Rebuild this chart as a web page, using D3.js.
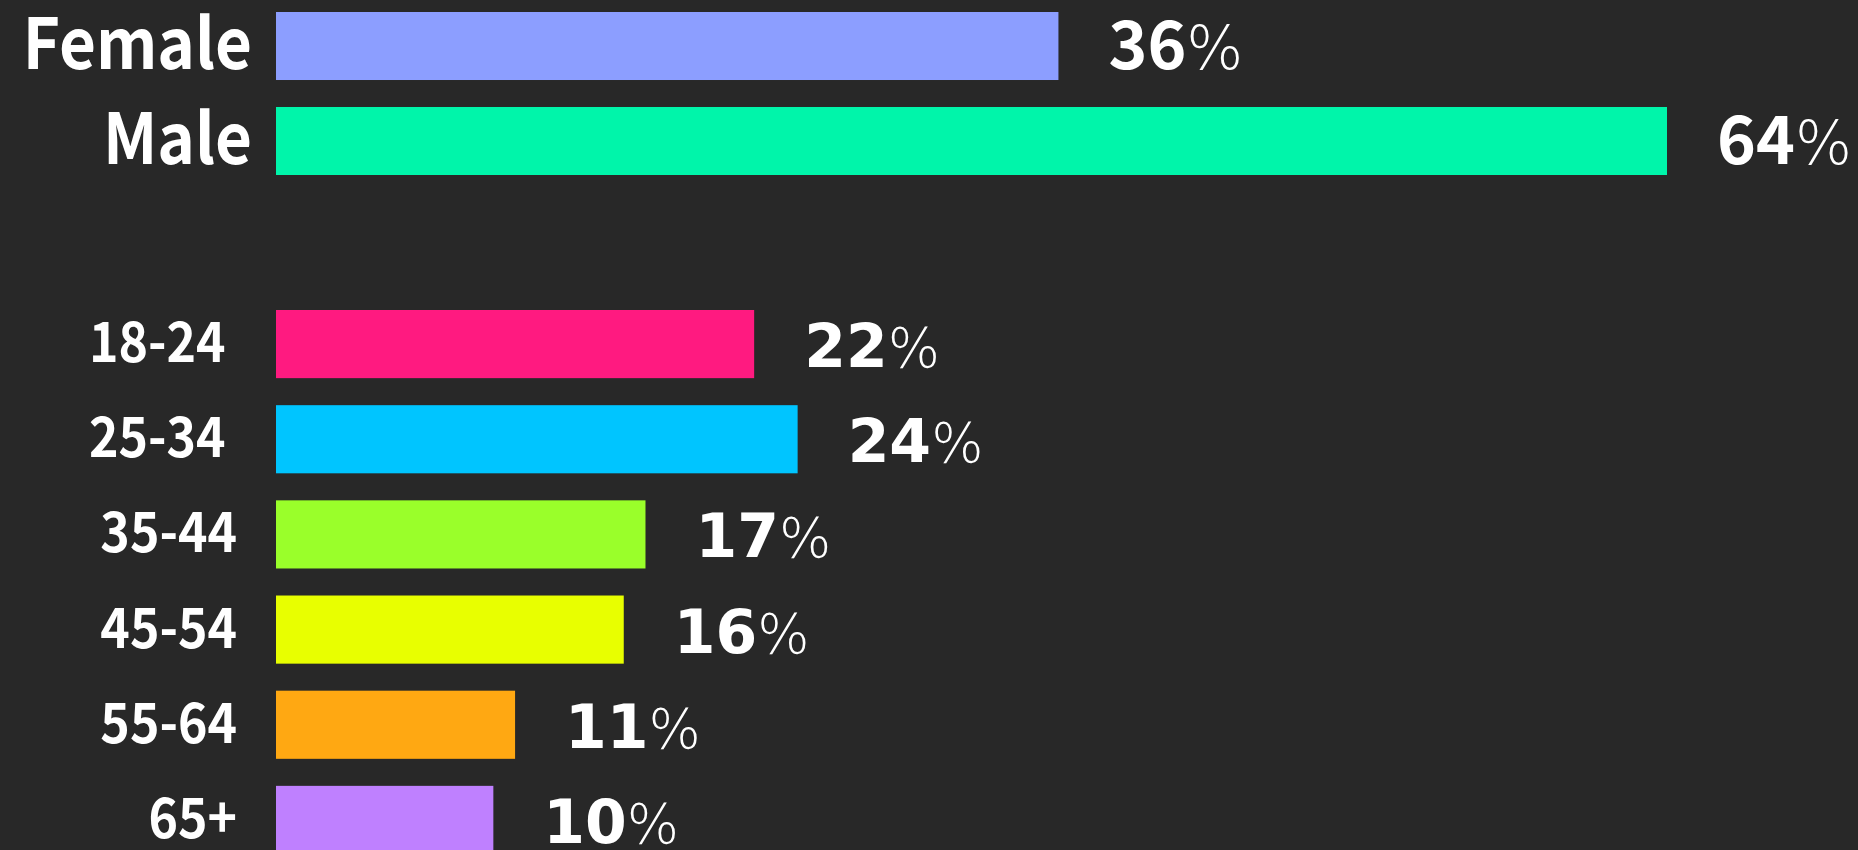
<!DOCTYPE html>
<html>
<head>
<meta charset="utf-8">
<script src="https://cdn.jsdelivr.net/npm/d3@7"></script>
<style>
    html, body { margin: 0; padding: 0; background: #282828; overflow: hidden; }
</style>
</head>
<body>
<svg id="chart"></svg>
<script>
// gender block
var genders = ['Female', 'Male'];
var genderShares = [36, 64];
var genderColors = ['#8c9eff', '#00f5aa'];

// age block
var ages = ['18-24\u00a0', '25-34\u00a0', '35-44', '45-54', '55-64', '65+'];
var ageShares = [22, 24, 17, 16, 11, 10];
var ageColors = ['#ff1a80', '#00c5ff', '#9aff2a', '#e8ff00', '#ffa812', '#bf80ff'];

var W = 1858, H = 850;
var SOURCE = '"Noto Sans CJK JP", "Noto Sans", sans-serif';
var DEJAVU = '"DejaVu Sans", sans-serif';

var svg = d3.select('#chart')
    .attr('width', W)
    .attr('height', H);

var xScale = d3.scaleLinear()
    .domain([0, 64])
    .range([276, 1667]);

var yGender = d3.scaleBand()
    .domain(genders)
    .range([12, 175])
    .paddingInner(0.284);

var yAge = d3.scaleBand()
    .domain(ages)
    .range([310, 854])
    .paddingInner(0.284);

function drawBars(cats, vals, colors, yScale) {
    svg.append('g').selectAll('rect')
        .data(cats)
        .enter().append('rect')
        .attr('x', xScale(0))
        .attr('y', function(d) { return yScale(d); })
        .attr('width', function(d, i) { return xScale(vals[i]) - xScale(0); })
        .attr('height', yScale.bandwidth())
        .attr('fill', function(d, i) { return colors[i]; });
}

// names are a bit narrower than the fallback font, squeeze them
function drawNames(cats, yScale, right, size, drop) {
    svg.append('g').selectAll('text')
        .data(cats)
        .enter().append('text')
        .attr('transform', function(d) {
            var y = yScale(d) + yScale.bandwidth() / 2 + drop;
            return 'translate(' + right + ',' + y + ') scale(0.91,1)';
        })
        .attr('text-anchor', 'end')
        .attr('fill', '#ffffff')
        .attr('font-family', SOURCE)
        .attr('font-weight', 700)
        .attr('font-size', size)
        .text(function(d) { return d; });
}

function drawShares(cats, vals, yScale, numFont, numSize, pctSize, drop) {
    var t = svg.append('g').selectAll('text')
        .data(cats)
        .enter().append('text')
        .attr('x', function(d, i) { return xScale(vals[i]) + 50; })
        .attr('y', function(d) { return yScale(d) + yScale.bandwidth() / 2 + drop; })
        .attr('fill', '#ffffff');
    t.append('tspan')
        .attr('font-family', numFont)
        .attr('font-weight', 700)
        .attr('font-size', numSize)
        .text(function(d, i) { return vals[i]; });
    t.append('tspan')
        .attr('font-family', DEJAVU)
        .attr('font-weight', 200)
        .attr('font-size', pctSize)
        .text('%');
}

drawBars(genders, genderShares, genderColors, yGender);
drawBars(ages, ageShares, ageColors, yAge);

drawNames(genders, yGender, 252, 70, 23);
drawNames(ages, yAge, 237, 55, 18);

drawShares(genders, genderShares, yGender, SOURCE, 66, 60, 23);
drawShares(ages, ageShares, yAge, DEJAVU, 60, 55, 23);
</script>
</body>
</html>
